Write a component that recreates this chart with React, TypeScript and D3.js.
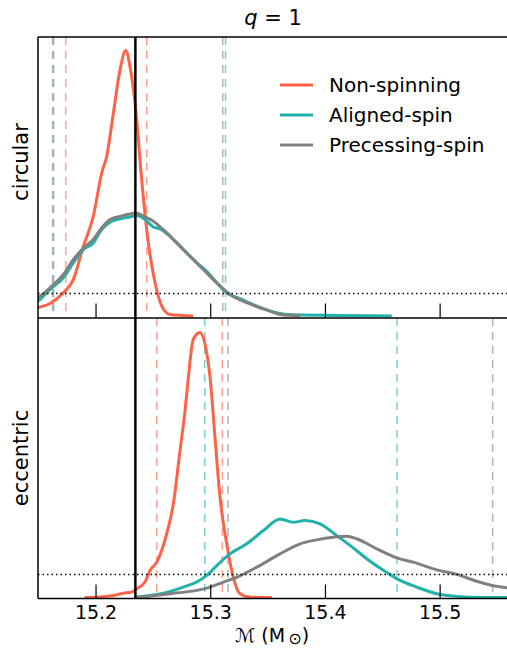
import React from "react";
import * as d3 from "d3";

// Chirp-mass posteriors for q = 1, circular (top) and eccentric (bottom) injections.
const seriesNames = ["Non-spinning", "Aligned-spin", "Precessing-spin"];
const seriesColors = ["#ff6347", "#20b2aa", "#808080"];

const trueChirpMass = 15.2343;
const xTicks = [15.2, 15.3, 15.4, 15.5];

// [chirp mass, posterior density] samples, circular injection
const circularNonSpinning: [number, number][] = [
  [15.14, 1.8], [15.1494, 3.3], [15.1599, 4.9], [15.1715, 8.9], [15.1802, 13.9],
  [15.1889, 26.4], [15.1976, 37.7], [15.205, 54.1], [15.2093, 60.3], [15.2151, 76.6],
  [15.2209, 92.9], [15.2259, 100.2], [15.2296, 94.2], [15.2349, 76.7], [15.2398, 51.5],
  [15.2456, 27.7], [15.2514, 12.8], [15.2573, 3.9], [15.2645, 0.75], [15.2846, 0.2],
];
const circularAligned: [number, number][] = [
  [15.14, 3.5], [15.1494, 5.8], [15.1599, 10.2], [15.1715, 14.6], [15.1802, 20.2],
  [15.1889, 25.2], [15.1976, 27.7], [15.205, 32.7], [15.2122, 35.5], [15.2209, 36.8],
  [15.2296, 37.5], [15.2355, 38.0], [15.2427, 36.5], [15.25, 33.7], [15.2558, 33.0],
  [15.2645, 30.2], [15.2761, 25.2], [15.2878, 20.2], [15.2965, 17.0], [15.3052, 12.7],
  [15.3139, 8.9], [15.3255, 6.7], [15.3401, 3.9], [15.3575, 1.4], [15.3663, 0.75],
  [15.4066, 0.4], [15.4578, 0.2],
];
const circularPrecessing: [number, number][] = [
  [15.14, 4.5], [15.1494, 7.0], [15.1599, 10.8], [15.1715, 15.8], [15.1802, 21.4],
  [15.1889, 25.8], [15.1976, 29.0], [15.205, 33.4], [15.2122, 36.5], [15.2209, 37.7],
  [15.2296, 38.6], [15.2349, 39.0], [15.2427, 37.5], [15.25, 35.9], [15.2587, 32.7],
  [15.2704, 27.7], [15.282, 22.7], [15.2935, 17.7], [15.3052, 12.7], [15.3168, 8.3],
  [15.3314, 5.2], [15.3517, 2.0], [15.3604, 0.75], [15.3779, 0.25],
];

// [chirp mass, posterior density] samples, eccentric injection
const eccentricNonSpinning: [number, number][] = [
  [15.19, 0.0], [15.2006, 0.1], [15.2151, 0.75], [15.2238, 1.6], [15.2311, 2.0],
  [15.2355, 3.3], [15.2427, 5.8], [15.2471, 10.2], [15.2529, 13.3], [15.2616, 24.0],
  [15.2674, 35.3], [15.2732, 55.3], [15.2776, 70.4], [15.2805, 82.9], [15.2848, 97.3],
  [15.2907, 99.8], [15.295, 95.4], [15.2994, 82.9], [15.3037, 60.3], [15.3081, 37.7],
  [15.3139, 20.2], [15.3197, 7.6], [15.3255, 1.4], [15.3343, 0.1], [15.3532, 0.0],
];
const eccentricAligned: [number, number][] = [
  [15.2343, 0.1], [15.2587, 1.6], [15.2761, 3.9], [15.2878, 5.8], [15.2965, 8.3],
  [15.3052, 12.0], [15.3168, 16.4], [15.3314, 20.2], [15.3459, 25.2], [15.3604, 29.6],
  [15.372, 28.3], [15.3822, 29.0], [15.3953, 27.7], [15.4099, 23.3], [15.4214, 19.6],
  [15.436, 14.6], [15.4505, 10.2], [15.4624, 7.0], [15.4796, 3.9], [15.497, 1.4],
  [15.5145, 0.4], [15.5377, 0.0], [15.57, 0.0],
];
const eccentricPrecessing: [number, number][] = [
  [15.2343, 0.0], [15.2645, 1.4], [15.2965, 3.5], [15.311, 5.8], [15.3227, 7.6],
  [15.3401, 11.4], [15.3604, 16.4], [15.3779, 20.2], [15.3924, 21.7], [15.4069, 22.7],
  [15.4186, 23.1], [15.4273, 22.1], [15.4447, 18.3], [15.4622, 14.9], [15.4766, 13.3],
  [15.497, 10.4], [15.5145, 8.7], [15.5319, 6.1], [15.5464, 4.4], [15.5583, 3.6],
  [15.57, 3.0],
];

// 90% credible bounds per series: [lower, upper]
const circularBounds: [number, number][] = [
  [15.1736, 15.2442], [15.163, 15.3129], [15.1622, 15.3105],
];
const eccentricBounds: [number, number][] = [
  [15.2529, 15.3101], [15.2948, 15.4624], [15.3151, 15.5458],
];

const panelLabels = ["circular", "eccentric"];
const thresholdDensity = 8.6;

const W = 507;
const H = 654;
const left = 38;
const right = 508;
const panelTops = [37, 318];
const panelH = 280.5;
const labelCenters = [162, 458];

const x = d3.scaleLinear().domain([15.1494, 15.1494 + (right - left) / 1147]).range([left, right]);

type Panel = {
  label: string;
  curves: [number, number][][];
  bounds: [number, number][];
};

const panels: Panel[] = [
  { label: panelLabels[0], curves: [circularNonSpinning, circularAligned, circularPrecessing], bounds: circularBounds },
  { label: panelLabels[1], curves: [eccentricNonSpinning, eccentricAligned, eccentricPrecessing], bounds: eccentricBounds },
];

const font = "'DejaVu Sans', sans-serif";

export default function App() {
  return (
    <svg width={W} height={H} style={{ display: "block", position: "absolute", left: 0, top: 0 }}>
      <rect width={W} height={H} fill="#fff" />
      <defs>
        {panels.map((_, i) => (
          <clipPath id={`clip${i}`} key={i}>
            <rect x={left} y={panelTops[i]} width={right - left} height={panelH} />
          </clipPath>
        ))}
      </defs>
      {panels.map((p, i) => {
        const top = panelTops[i];
        const bottom = top + panelH;
        const y = d3.scaleLinear().domain([-0.4, 105.3]).range([bottom, top]);
        const line = d3
          .line<[number, number]>()
          .x((d) => x(d[0]))
          .y((d) => y(d[1]))
          .curve(d3.curveMonotoneX);
        return (
          <g key={i}>
            <g clipPath={`url(#clip${i})`}>
              {p.bounds.map((b, s) =>
                b.map((v, k) => (
                  <line
                    key={`${s}-${k}`}
                    x1={x(v)}
                    x2={x(v)}
                    y1={top}
                    y2={bottom}
                    stroke={seriesColors[s]}
                    strokeOpacity={0.6}
                    strokeWidth={1.5}
                    strokeDasharray="8,6"
                  />
                ))
              )}
              {p.curves.map((c, s) => (
                <path
                  key={s}
                  d={line(c) ?? ""}
                  fill="none"
                  stroke={seriesColors[s]}
                  strokeWidth={3}
                  strokeLinejoin="round"
                />
              ))}
              <line
                x1={left}
                x2={right}
                y1={y(thresholdDensity)}
                y2={y(thresholdDensity)}
                stroke="#000"
                strokeWidth={1.5}
                strokeDasharray="1.5,3"
              />
            </g>
            {xTicks.map((t) => (
              <line key={t} x1={x(t)} x2={x(t)} y1={bottom} y2={bottom - 14} stroke="#000" strokeWidth={1.2} />
            ))}
            <text
              transform={`translate(28,${labelCenters[i]}) rotate(-90)`}
              textAnchor="middle"
              fontFamily={font}
              fontSize={21}
            >
              {p.label}
            </text>
          </g>
        );
      })}
      {/* true chirp mass */}
      <line
        x1={x(trueChirpMass)}
        x2={x(trueChirpMass)}
        y1={panelTops[0]}
        y2={panelTops[1] + panelH}
        stroke="#000"
        strokeWidth={2.5}
      />
      {/* frames */}
      <g stroke="#000" strokeWidth={1.5} fill="none">
        <line x1={left} x2={right} y1={panelTops[0]} y2={panelTops[0]} />
        <line x1={left} x2={right} y1={panelTops[1]} y2={panelTops[1]} />
        <line x1={left} x2={right} y1={panelTops[1] + panelH} y2={panelTops[1] + panelH} />
        <line x1={left} x2={left} y1={panelTops[0]} y2={panelTops[1] + panelH} />
      </g>
      {xTicks.map((t) => (
        <text key={t} x={x(t)} y={619} textAnchor="middle" fontFamily={font} fontSize={19}>
          {t.toFixed(1)}
        </text>
      ))}
      <text x={272} y={642} textAnchor="middle" fontFamily={font} fontSize={19}>
        {"ℳ (M"}
        <tspan fontSize={16} dy={2}>{"\u2009⊙"}</tspan>
        <tspan dy={-2}>{")"}</tspan>
      </text>
      <text x={273} y={25} textAnchor="middle" fontFamily={font} fontSize={21}>
        <tspan fontStyle="italic">q</tspan>
        {" = 1"}
      </text>
      {/* legend */}
      {seriesNames.map((n, i) => (
        <g key={n} transform={`translate(280,${85 + i * 30})`}>
          <line x1={0} x2={33} y1={0} y2={0} stroke={seriesColors[i]} strokeWidth={3} />
          <text x={49} y={7} fontFamily={font} fontSize={20}>
            {n}
          </text>
        </g>
      ))}
    </svg>
  );
}
